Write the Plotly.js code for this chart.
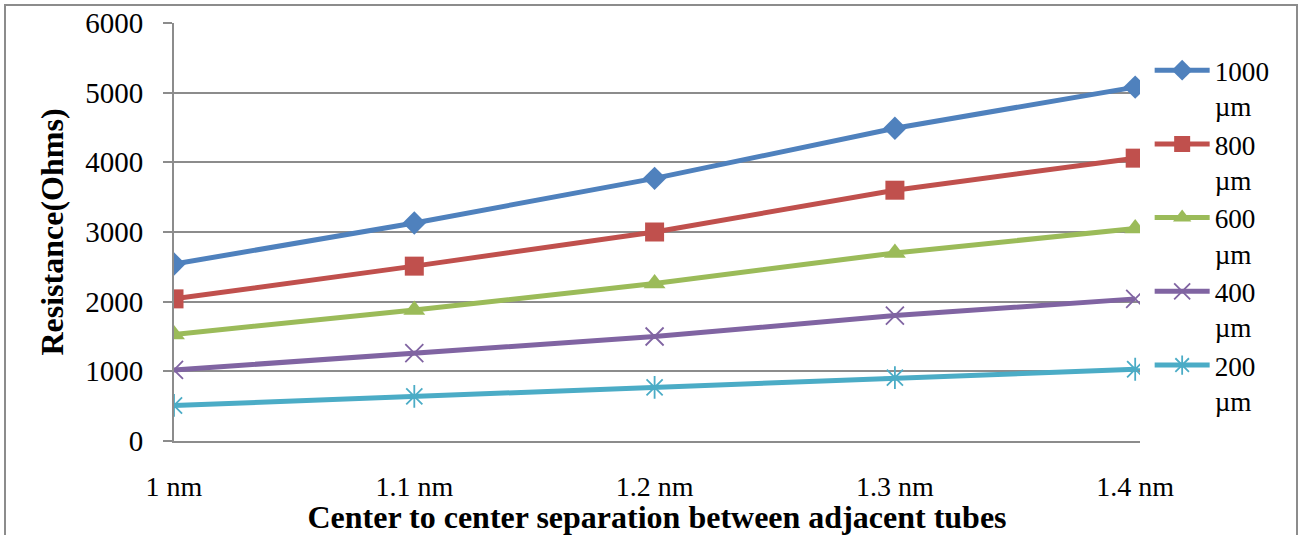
<!DOCTYPE html>
<html>
<head>
<meta charset="utf-8">
<script src="https://cdn.plot.ly/plotly-3.0.1.min.js"></script>
<style>
html,body{margin:0;padding:0;background:#fff;}
#wrap{position:relative;width:1301px;height:535px;overflow:hidden;}
#chart{width:1301px;height:535px;}
#frame{position:absolute;left:4px;top:4px;width:1290px;height:560px;border:2px solid #8c8c8c;pointer-events:none;}
</style>
</head>
<body>
<div id="wrap"><div id="chart"></div><div id="frame"></div></div>
<script>
var categories = ['1 nm', '1.1 nm', '1.2 nm', '1.3 nm', '1.4 nm'];
var seriesNames = ['1000<br>µm', '800<br>µm', '600<br>µm', '400<br>µm', '200<br>µm'];
var r1000 = [2540, 3130, 3770, 4490, 5080];
var r800  = [2040, 2510, 3000, 3600, 4060];
var r600  = [1530, 1880, 2260, 2700, 3050];
var r400  = [1020, 1260, 1500, 1800, 2040];
var r200  = [510, 640, 770, 910, 1030];
var yTicks = [0, 1000, 2000, 3000, 4000, 5000, 6000];

var values = [r1000, r800, r600, r400, r200];
var colors = ['#4F81BD', '#C0504D', '#9BBB59', '#8064A2', '#4BACC6'];
var symbols = ['diamond', 'square', 'triangle-up', 'x-thin-open', 'asterisk-open'];
var sizes = [18, 19, 19, 18, 19];

var xIdx = categories.map(function(c, i){ return i; });
var traces = values.map(function(v, k){
  return {
    type: 'scatter', mode: 'lines+markers',
    x: xIdx, y: v, name: seriesNames[k],
    line: {color: colors[k], width: 5},
    marker: {symbol: symbols[k], size: sizes[k], color: colors[k],
             line: {color: colors[k], width: (k >= 3 ? 1.8 : 0)}}
  };
});

var font = 'Liberation Serif, Times New Roman, serif';
var layout = {
  width: 1301, height: 535,
  margin: {l: 174, r: 161, t: 23, b: 94},
  paper_bgcolor: '#fff', plot_bgcolor: '#fff',
  font: {family: font, color: '#000', size: 30},
  showlegend: true,
  legend: {x: 1.01, xanchor: 'left', y: 0.945, yanchor: 'top', valign: 'top',
           font: {family: font, size: 27.2, color: '#000'}, itemwidth: 55,
           bgcolor: 'rgba(0,0,0,0)', tracegroupgap: 0},
  xaxis: {
    range: [0, 4.02], tickmode: 'array', tickvals: xIdx, ticktext: categories,
    showgrid: false, zeroline: false, showline: true, linecolor: '#8c8c8c', linewidth: 2,
    ticks: '', ticklabelstandoff: 19, automargin: false,
    tickfont: {family: font, size: 28},
    title: {text: '<b>Center to center separation between adjacent tubes</b>',
            font: {family: font, size: 32}, standoff: 2}
  },
  yaxis: {
    range: [0, 6000], tickmode: 'array', tickvals: yTicks,
    showgrid: true, gridcolor: '#8c8c8c', gridwidth: 2,
    zeroline: false, showline: true, linecolor: '#8c8c8c', linewidth: 2,
    ticks: 'outside', ticklen: 9, tickcolor: '#8c8c8c', tickwidth: 2,
    ticklabelstandoff: 14, automargin: false,
    tickfont: {family: font, size: 29},
    title: {text: '<b>Resistance(Ohms)</b>', font: {family: font, size: 32}, standoff: 12}
  }
};
Plotly.newPlot('chart', traces, layout, {displayModeBar: false, staticPlot: true});
</script>
</body>
</html>
